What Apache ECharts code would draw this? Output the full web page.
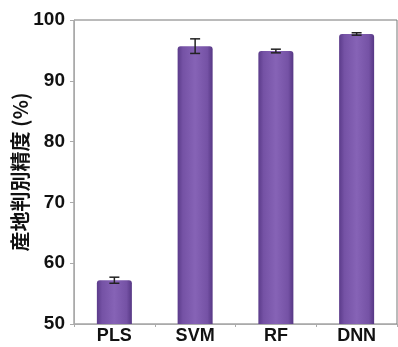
<!DOCTYPE html>
<html><head><meta charset="utf-8">
<script src="https://cdn.jsdelivr.net/npm/echarts@6/dist/echarts.min.js"></script>
<style>html,body{margin:0;padding:0;background:#fff}#c{width:398px;height:347px}</style>
</head><body><div id="c"></div>
<script>
const categories = ['PLS', 'SVM', 'RF', 'DNN'];
const accuracy = [57.2, 95.7, 94.9, 97.7];
const errors = [0.5, 1.2, 0.3, 0.2];
const yTicks = [50, 60, 70, 80, 90, 100];

const chart = echarts.init(document.getElementById('c'), null, {renderer: 'canvas'});
const barColor = new echarts.graphic.LinearGradient(0, 0, 1, 0, [
  {offset: 0, color: '#5b3b8a'},
  {offset: 0.15, color: '#7552a5'},
  {offset: 0.5, color: '#8663b6'},
  {offset: 0.85, color: '#7552a5'},
  {offset: 1, color: '#563784'}
]);
chart.setOption({
  animation: false,
  grid: {left: 74, right: 1, top: 20, bottom: 23, show: true, borderColor: '#777', borderWidth: 1, backgroundColor: 'transparent', containLabel: false, outerBoundsMode: 'none'},
  xAxis: {
    type: 'category', data: categories,
    axisLine: {lineStyle: {color: '#aaa'}},
    axisTick: {show: true, length: 3, lineStyle: {color: '#aaa'}},
    axisLabel: {color: '#111', fontSize: 18, fontWeight: 'bold', fontFamily: 'Liberation Sans', margin: 3}
  },
  yAxis: {
    type: 'value', min: yTicks[0], max: yTicks[yTicks.length - 1], interval: 10,
    name: '産地判別精度 (%)', nameLocation: 'middle', nameGap: 44, nameMoveOverlap: false,
    nameTextStyle: {color: '#111', fontSize: 20, fontWeight: 'bold', fontFamily: 'Noto Sans CJK JP'},
    axisLine: {show: true, lineStyle: {color: '#aaa'}},
    axisTick: {show: true, length: 4, lineStyle: {color: '#aaa'}},
    splitLine: {show: false},
    axisLabel: {color: '#111', fontSize: 19, fontWeight: 'bold', fontFamily: 'Liberation Sans', margin: 9}
  },
  series: [
    {
      type: 'bar', data: accuracy, barWidth: 35,
      itemStyle: {color: barColor, borderRadius: [3, 3, 0, 0]}
    },
    {
      type: 'custom',
      data: accuracy.map((v, i) => [i, v - errors[i], v + errors[i]]),
      renderItem: function (params, api) {
        const lo = api.coord([api.value(0), api.value(1)]);
        const hi = api.coord([api.value(0), api.value(2)]);
        const hw = 5;
        const st = {stroke: '#222', lineWidth: 1.5};
        return {type: 'group', children: [
          {type: 'line', shape: {x1: lo[0], y1: lo[1], x2: hi[0], y2: hi[1]}, style: st},
          {type: 'line', shape: {x1: lo[0] - hw, y1: lo[1], x2: lo[0] + hw, y2: lo[1]}, style: st},
          {type: 'line', shape: {x1: hi[0] - hw, y1: hi[1], x2: hi[0] + hw, y2: hi[1]}, style: st}
        ]};
      },
      z: 5
    }
  ]
});
</script></body></html>
